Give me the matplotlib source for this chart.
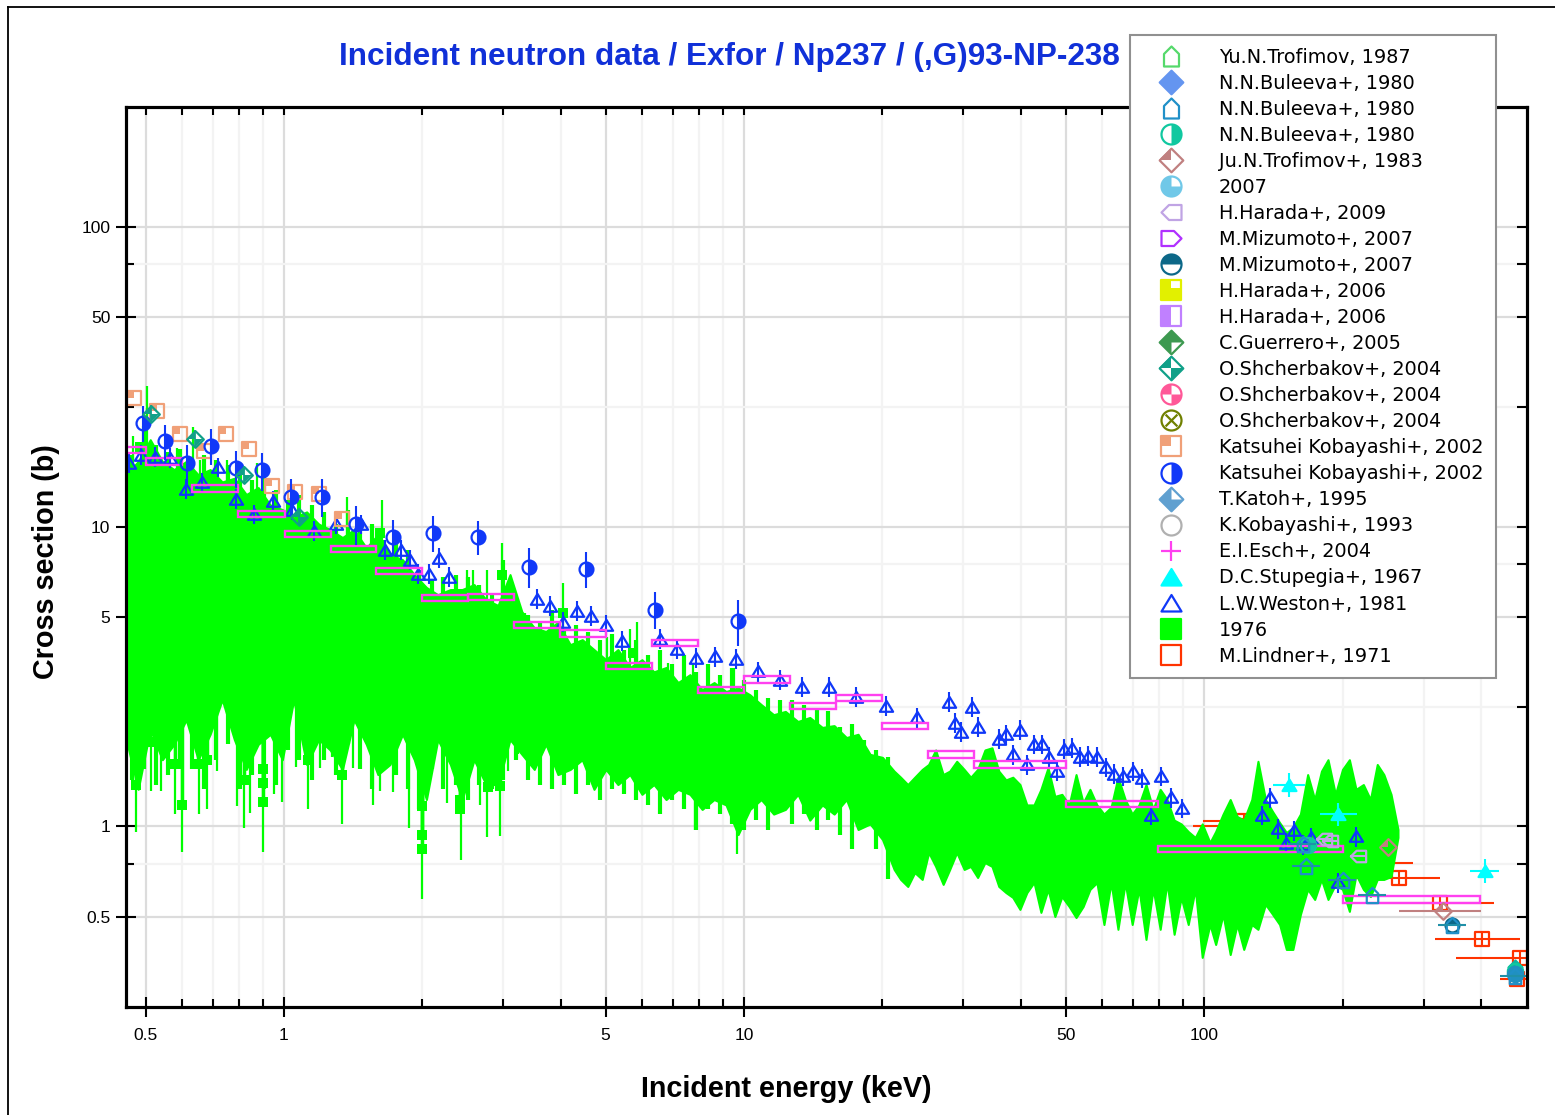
import matplotlib
matplotlib.use('Agg')
import matplotlib.pyplot as plt
import numpy as np
from matplotlib.lines import Line2D
from matplotlib.patches import Rectangle
from matplotlib.path import Path
from matplotlib.legend_handler import HandlerTuple
from matplotlib.ticker import NullFormatter, NullLocator

# 1976 data: band (energy keV, upper and lower edge in barns)
green_e = [0.454, 0.482, 0.512, 0.544, 0.577, 0.613, 0.651, 0.691, 0.734, 0.780, 0.828, 0.879, 0.934, 0.992, 1.05, 1.12,
           1.19, 1.26, 1.34, 1.42, 1.51, 1.60, 1.70, 1.81, 1.92, 2.04, 2.16, 2.30, 2.44, 2.59, 2.75, 2.92,
           3.10, 3.29, 3.50, 3.71, 3.94, 4.19, 4.45, 4.72, 5.01, 5.32, 5.65, 6.00, 6.37, 6.77, 7.19, 7.63,
           8.11, 8.61, 9.14, 9.71, 10.3, 10.9, 11.6, 12.3, 13.1, 13.9, 14.8, 15.7, 16.7, 17.7, 18.8, 20.0, 21.2,
           21.9, 22.7, 23.5, 24.4, 25.2, 26.1, 27.1, 28.0, 29.0, 30.1, 31.1, 32.2, 33.4, 34.6, 35.8, 37.1, 38.4, 39.8, 41.2, 42.7,
           44.2, 45.8, 47.4, 49.1, 50.9, 52.7, 54.6, 56.5, 58.5, 60.6, 62.8, 65.0, 67.4, 69.8, 72.2, 74.8, 77.5, 80.3, 83.1, 86.1,
           89.2, 92.4, 95.7, 99.1, 103, 106, 110, 114, 118, 122, 127, 131, 136, 141, 146, 151, 156, 162, 168, 174,
           180, 186, 193, 200, 207, 214, 222, 230, 238, 246, 255, 264]
green_hi = [14.9, 16.5, 19.5, 16.5, 15.5, 16.5, 14.9, 15.5, 14.1, 14.5, 12.8, 13.5, 11.8, 11.4, 10.7, 11.2,
            10.2, 9.77, 9.2, 9.77, 8.5, 9.4, 8.07, 7.76, 6.92, 6.27, 5.93, 6.17, 6.17, 6.41, 5.71, 5.46,
            6.92, 5.2, 4.6, 4.47, 4.8, 4.04, 4.2, 3.89, 3.6, 3.89, 3.39, 3.6, 3.28, 3.39, 3.02, 3.21,
            2.86, 3.02, 2.82, 2.9, 2.75, 2.55, 2.36, 2.42, 2.24, 2.31, 2.14, 2.17, 1.98, 2.03, 1.74, 1.70, 1.53,
            1.46, 1.38, 1.46, 1.55, 1.61, 1.80, 1.49, 1.53, 1.65, 1.55, 1.46, 1.55, 1.80, 1.83, 1.53, 1.43, 1.46, 1.38, 1.18, 1.18,
            1.33, 1.57, 1.26, 1.28, 1.18, 1.49, 1.20, 1.33, 1.18, 1.10, 1.16, 1.46, 1.23, 1.10, 1.18, 1.38, 1.14, 1.33, 1.23, 1.05,
            1.02, 0.962, 0.919, 1.02, 0.884, 0.962, 1.10, 1.23, 1.08, 1.05, 1.23, 1.65, 1.23, 1.12, 1.03, 0.955, 0.992, 1.10, 1.49, 1.23,
            1.53, 1.67, 1.28, 1.55, 1.67, 1.33, 1.38, 1.23, 1.61, 1.49, 1.28, 0.977]
green_lo = [1.95, 1.33, 2.11, 1.67, 1.88, 2.27, 1.67, 2.03, 2.65, 1.95, 1.55, 1.88, 2.03, 1.67, 2.65, 1.61,
            1.95, 1.80, 1.55, 2.27, 1.88, 1.49, 1.61, 2.03, 1.67, 1.23, 1.95, 1.61, 1.23, 1.67, 1.38, 1.38,
            1.95, 1.74, 1.55, 1.88, 1.49, 1.55, 1.67, 1.33, 1.55, 1.38, 1.49, 1.28, 1.38, 1.23, 1.33, 1.28,
            1.14, 1.23, 1.18, 0.94, 1.14, 1.23, 1.10, 1.14, 1.28, 1.05, 1.18, 1.10, 1.23, 0.977, 1.02, 0.905, 0.719,
            0.666, 0.631, 0.702, 0.666, 0.819, 0.736, 0.641, 0.719, 0.819, 0.719, 0.736, 0.676, 0.758, 0.736, 0.631, 0.602, 0.580, 0.529, 0.602, 0.651,
            0.517, 0.617, 0.501, 0.584, 0.541, 0.497, 0.541, 0.617, 0.65, 0.471, 0.65, 0.454, 0.65, 0.471, 0.62, 0.420, 0.62, 0.454, 0.65, 0.437,
            0.58, 0.471, 0.62, 0.366, 0.471, 0.404, 0.509, 0.374, 0.471, 0.389, 0.471, 0.454, 0.550, 0.509, 0.471, 0.389, 0.389, 0.509, 0.617, 0.571,
            0.666, 0.571, 0.641, 0.617, 0.521, 0.692, 0.617, 0.584, 0.666, 0.666, 0.681, 0.919]

# finer teeth between the band rows, below 21 keV
mid_e = [0.467, 0.496, 0.527, 0.559, 0.594, 0.631, 0.670, 0.711, 0.755, 0.802, 0.852, 0.904, 0.960, 1.02, 1.08, 1.15, 1.22, 1.30, 1.38, 1.46,
         1.55, 1.65, 1.75, 1.86, 1.97, 2.10, 2.22, 2.36, 2.51, 2.66, 2.83, 3.00, 3.19, 3.39, 3.60, 3.82, 4.06, 4.31, 4.58, 4.86,
         5.16, 5.48, 5.82, 6.18, 6.56, 6.97, 7.40, 7.86, 8.35, 8.86, 9.41, 10.0, 10.6, 11.3, 12.0, 12.7, 13.5, 14.4, 15.2, 16.2,
         17.2, 18.2, 19.4, 20.6]
mid_hi = [17.4, 21.7, 18.7, 17.8, 18.1, 16.7, 17.4, 16.7, 16.1, 15.5, 14.3, 14.9, 13.3, 12.3, 12.8, 11.8, 11.2, 10.2, 11.4, 9.77,
          10.2, 9.05, 9.05, 8.38, 7.19, 6.66, 6.8, 6.92, 6.8, 6.41, 5.93, 7.76, 5.71, 5.09, 4.8, 5.29, 4.54, 4.71, 4.47, 4.2,
          4.37, 3.89, 4.2, 3.74, 3.89, 3.47, 3.74, 3.28, 3.47, 3.21, 3.39, 3.09, 2.86, 2.69, 2.65, 2.65, 2.55, 2.49, 2.42, 2.14,
          2.19, 1.95, 1.80, 1.70]
mid_lo = [1.43, 1.55, 1.38, 1.49, 1.55, 1.55, 1.33, 1.67, 1.88, 1.33, 1.49, 1.33, 1.38, 1.80, 1.67, 1.43, 1.67, 1.49, 1.88, 1.55,
          1.33, 1.55, 1.49, 1.33, 1.14, 1.55, 1.33, 1.38, 1.23, 1.38, 1.33, 1.43, 1.67, 1.43, 1.38, 1.33, 1.38, 1.28, 1.38, 1.23,
          1.33, 1.28, 1.23, 1.18, 1.10, 1.23, 1.14, 0.977, 1.14, 1.10, 1.02, 0.977, 1.05, 0.977, 1.14, 1.02, 1.10, 0.977, 1.05, 0.94,
          0.838, 1.02, 0.838, 0.666]

# narrow peaks and dips that stick out of the band
spike_e = [0.470, 0.504, 0.585, 0.634, 0.656, 0.752, 0.874, 1.37, 1.63, 2.50, 2.58, 2.76, 2.98, 3.13, 3.34, 4.04, 5.04, 5.65, 5.85, 6.83, 7.75, 8.35, 9.51]
spike_v = [20.0, 29.5, 18.3, 21.5, 16.7, 16.7, 16.3, 12.6, 12.3, 7.19, 7.19, 7.19, 8.84, 6.17, 5.17, 6.5, 4.30, 4.54, 4.8, 3.52, 3.52, 3.34, 3.39]
dip_e = [0.477, 0.514, 0.540, 0.580, 0.600, 0.653, 0.680, 0.715, 0.791, 0.819, 0.843, 0.900, 0.951, 0.991, 1.06, 1.13, 1.20, 1.27, 1.34, 1.41,
         1.56, 1.62, 1.73, 1.87, 2.0, 2.26, 2.43, 2.67, 2.76, 2.95, 3.07, 3.23, 4.87, 6.57, 7.82, 9.66]
dip_v = [0.955, 1.31, 1.31, 1.10, 0.819, 1.10, 1.14, 1.53, 1.17, 0.99, 1.11, 0.819, 1.28, 1.21, 1.58, 1.14, 1.57, 1.70, 1.02, 1.57,
         1.18, 1.31, 1.30, 0.99, 0.571, 1.20, 0.776, 1.18, 0.919, 0.926, 1.53, 1.74, 1.23, 1.10, 0.977, 0.807]
pt_low_e = [0.477, 0.511, 0.540, 0.511, 0.580, 0.600, 0.650, 0.680, 0.819, 0.900, 0.900, 0.900, 1.13, 1.34, 2.0, 2.0, 2.0, 2.0, 2.41, 2.41, 2.77, 2.95]
pt_low_v = [1.38, 1.92, 1.92, 2.22, 1.61, 1.18, 1.61, 1.67, 1.43, 1.21, 1.40, 1.55, 1.67, 1.49, 1.17, 1.36, 0.940, 0.838, 1.14, 1.23, 1.35, 1.36]
pt_top_e = [0.486, 0.874, 1.62, 2.98, 4.04, 5.74]
pt_top_v = [18.5, 12.6, 9.5, 6.92, 5.17, 3.80]

# other data sets
lindner_e = [118, 122, 203, 265, 326, 402, 486, 479]
lindner_v = [1.0, 1.04, 0.753, 0.671, 0.554, 0.423, 0.363, 0.309]
lindner_lo = [94.7, 99.5, 186, 205, 226, 318, 353, 440]
lindner_hi = [148.5, 145, 285, 326, 427, 486, 620, 560]

weston_e = [0.460, 0.489, 0.525, 0.565, 0.612, 0.663, 0.719, 0.787, 0.861, 0.947, 1.04, 1.16, 1.30, 1.47, 1.66, 1.80, 1.88, 1.96, 2.07, 2.17, 2.28,
            3.55, 3.79, 4.04, 4.33, 4.65, 5.01, 5.43, 6.57, 7.15, 7.87, 8.65, 9.61, 10.7, 12.0, 13.4, 15.3, 17.5, 20.4, 23.8, 27.9, 28.8, 29.6, 31.3, 32.3,
            35.8, 37.1, 38.5, 39.8, 41.2, 42.7, 44.4, 46.0, 47.9, 49.6, 51.6, 53.7, 56.0, 58.5, 61.2, 63.7, 66.6, 70.1, 73.3, 76.7, 80.7, 84.8, 89.6,
            134, 139, 145, 151, 157, 164, 171, 196, 214]
weston_v = [16.3, 17.4, 17.1, 17.0, 13.4, 14.1, 15.8, 12.4, 11.0, 12.2, 11.4, 9.70, 10.2, 10.2, 8.39, 8.39, 7.76, 6.97, 6.97, 7.88, 6.81,
            5.75, 5.45, 4.82, 5.25, 5.05, 4.71, 4.17, 4.23, 3.92, 3.66, 3.69, 3.63, 3.29, 3.09, 2.93, 2.93, 2.71, 2.53, 2.31, 2.61, 2.22, 2.07, 2.51, 2.15,
            1.96, 2.03, 1.74, 2.10, 1.61, 1.88, 1.88, 1.71, 1.53, 1.82, 1.83, 1.71, 1.72, 1.71, 1.58, 1.50, 1.47, 1.53, 1.45, 1.09, 1.47, 1.25, 1.15,
            1.09, 1.25, 0.985, 0.884, 0.970, 0.871, 0.919, 0.651, 0.927]
weston_rel_err = 0.075

stupegia_e = [153, 196, 408]
stupegia_v = [1.38, 1.10, 0.713]
stupegia_lo = [141, 179, 379]
stupegia_hi = [166, 215, 438]

esch_lo = [0.40, 0.501, 0.631, 0.794, 1.005, 1.265, 1.585, 2.0, 2.51, 3.16, 3.98, 5.01, 6.31, 7.94, 10.0, 12.6, 15.85, 20.0, 25.1, 31.6, 50.1, 79.4, 200]
esch_hi = [0.501, 0.60, 0.794, 1.005, 1.265, 1.585, 2.0, 2.51, 3.16, 3.98, 5.01, 6.31, 7.94, 10.0, 12.6, 15.85, 20.0, 25.1, 31.6, 50.1, 79.4, 200, 398]
esch_v = [18.0, 16.5, 13.4, 11.0, 9.48, 8.45, 7.13, 5.80, 5.84, 4.70, 4.40, 3.43, 4.09, 2.86, 3.09, 2.53, 2.68, 2.17, 1.74, 1.61, 1.19, 0.841, 0.571]
esch_rel_err = 0.024

kob02_sq_e = [0.472, 0.530, 0.594, 0.670, 0.748, 0.839, 0.942, 1.057, 1.19, 1.337]
kob02_sq_v = [26.9, 24.4, 20.4, 17.9, 20.3, 18.1, 13.7, 13.0, 12.9, 10.6]
kob02_c_e = [0.494, 0.551, 0.615, 0.694, 0.787, 0.896, 1.036, 1.21, 1.434, 1.725, 2.11, 2.64, 3.41, 4.54, 6.41, 9.70]
kob02_c_v = [22.2, 19.3, 16.3, 18.6, 15.7, 15.4, 12.6, 12.6, 10.2, 9.26, 9.55, 9.26, 7.36, 7.24, 5.29, 4.86]
kob02_c_err = [3.0, 2.6, 2.4, 2.6, 2.2, 2.2, 1.8, 1.8, 1.5, 1.3, 1.3, 1.2, 1.1, 1.0, 0.75, 0.85]

shch_e = [0.514, 0.641, 0.819, 1.08]
shch_v = [23.8, 19.6, 14.9, 10.8]

harada09_e = [182, 188, 216]
harada09_v = [0.905, 0.897, 0.80]

trof83_e = [251, 331]
trof83_v = [0.851, 0.521]
trof83_lo = [251, 265]
trof83_hi = [251, 400]

bul_house_e = [164, 167, 200, 232, 346, 474]
bul_house_v = [0.871, 0.736, 0.661, 0.593, 0.471, 0.316]
bul_half_e = [168, 474]
bul_half_v = [0.865, 0.329]
bul_dia_e = [474]
bul_dia_v = [0.339]
miz_half_e = [346, 474]
miz_half_v = [0.471, 0.329]
y2007_e = [474]
y2007_v = [0.322]

legend_labels = ['Yu.N.Trofimov, 1987', 'N.N.Buleeva+, 1980', 'N.N.Buleeva+, 1980', 'N.N.Buleeva+, 1980', 'Ju.N.Trofimov+, 1983',
                 '2007', 'H.Harada+, 2009', 'M.Mizumoto+, 2007', 'M.Mizumoto+, 2007', 'H.Harada+, 2006', 'H.Harada+, 2006',
                 'C.Guerrero+, 2005', 'O.Shcherbakov+, 2004', 'O.Shcherbakov+, 2004', 'O.Shcherbakov+, 2004',
                 'Katsuhei Kobayashi+, 2002', 'Katsuhei Kobayashi+, 2002', 'T.Katoh+, 1995', 'K.Kobayashi+, 1993',
                 'E.I.Esch+, 2004', 'D.C.Stupegia+, 1967', 'L.W.Weston+, 1981', '1976', 'M.Lindner+, 1971']

x_major = [0.5, 1, 5, 10, 50, 100]
x_minor = [0.6, 0.7, 0.8, 0.9, 2, 3, 4, 6, 7, 8, 9, 20, 30, 40, 60, 70, 80, 90, 200, 300, 400]
y_major = [0.5, 1, 5, 10, 50, 100]
y_minor = [0.75, 2.5, 7.5, 25, 75]


def poly(pts):
    return Path(pts + [pts[0]], closed=True)


CIRCLE = Path.unit_circle()
DIAMOND = poly([(0, 1), (1, 0), (0, -1), (-1, 0)])
SQUARE = poly([(-1, -1), (1, -1), (1, 1), (-1, 1)])
HOUSE = poly([(-0.75, -1), (0.75, -1), (0.75, 0.25), (0, 1), (-0.75, 0.25)])
HOUSE_L = poly([(1, -0.75), (1, 0.75), (-0.25, 0.75), (-1, 0), (-0.25, -0.75)])
HOUSE_R = poly([(-1, -0.75), (-1, 0.75), (0.25, 0.75), (1, 0), (0.25, -0.75)])
TRI = poly([(0, 0.85), (1, -0.8), (-1, -0.8)])
PLUS = Path([(-1, 0), (1, 0), (0, -1), (0, 1)], [Path.MOVETO, Path.LINETO, Path.MOVETO, Path.LINETO])
CROSS = Path([(-1, -1), (1, 1), (-1, 1), (1, -1)], [Path.MOVETO, Path.LINETO, Path.MOVETO, Path.LINETO])

s_trof87 = ('#55d96b', HOUSE, None)
s_bul_dia = ('#6495f0', DIAMOND, DIAMOND)
s_bul_house = ('#2090c8', HOUSE, None)
s_bul_half = ('#10c8a0', CIRCLE, Path.wedge(-90, 90))
s_trof83 = ('#c08080', DIAMOND, poly([(-1, 0), (0, 0), (0, 1)]))
s_2007 = ('#70c8e8', CIRCLE, Path.wedge(90, 360))
s_har09 = ('#c0a4e4', HOUSE_L, None)
s_miz_r = ('#b030ff', HOUSE_R, None)
s_miz_half = ('#0c6888', CIRCLE, Path.wedge(0, 180))
s_har_y = ('#e2f000', SQUARE, poly([(-1, -1), (1, -1), (1, 0.2), (0, 0.2), (0, 1), (-1, 1)]))
s_har_p = ('#c080ff', SQUARE, poly([(-1, -1), (0, -1), (0, 1), (-1, 1)]))
s_guer = ('#3d9950', DIAMOND, poly([(0, 1), (1, 0), (0, 0), (0, -1), (-1, 0)]))
s_shch = ('#10a088', DIAMOND, Path.make_compound_path(poly([(-1, 0), (0, 0), (0, 1)]), poly([(1, 0), (0, 0), (0, -1)])))
s_pink = ('#ff5898', CIRCLE, Path.make_compound_path(Path.wedge(90, 180), Path.wedge(270, 360)))
s_olive = ('#708000', CIRCLE, CROSS)
s_kob_sq = ('#f0a078', SQUARE, poly([(-1, 0), (0, 0), (0, 1), (-1, 1)]))
s_kob_c = ('#1038f8', CIRCLE, Path.wedge(-90, 90))
s_katoh = ('#60a0d0', DIAMOND, poly([(-1, 0), (0, -1), (1, 0), (0, 0), (0, 1)]))
s_kob93 = ('#b0b0b0', CIRCLE, None)
s_esch = ('#ff40f0', PLUS, None)
s_stup = ('#00ffff', TRI, TRI)
s_west = ('#1038f8', TRI, None)
s_1976 = ('#00ff00', SQUARE, SQUARE)
s_lind = ('#ff3300', SQUARE, None)

legend_styles = [s_trof87, s_bul_dia, s_bul_house, s_bul_half, s_trof83, s_2007, s_har09, s_miz_r, s_miz_half, s_har_y, s_har_p,
                 s_guer, s_shch, s_pink, s_olive, s_kob_sq, s_kob_c, s_katoh, s_kob93, s_esch, s_stup, s_west, s_1976, s_lind]

plt.rcParams['font.family'] = ['Liberation Sans', 'DejaVu Sans']

fig = plt.figure(figsize=(15.55, 11.15), dpi=100)
ax = fig.add_axes([126 / 1555, 1 - 1007 / 1115, (1527 - 126) / 1555, 900 / 1115])
ax.set_xscale('log')
ax.set_yscale('log')
ax.set_xlim(0.4535, 503.6)
ax.set_ylim(0.25, 251)


def draw(e, v, style, ms=9.5, z=5.0):
    color, outline, fill = style
    ax.plot(e, v, ls='none', marker=outline, ms=ms, mfc='none', mec=color, mew=1.6, zorder=z)
    if fill is not None:
        ax.plot(e, v, ls='none', marker=fill, ms=ms, mfc=color, mec=color, mew=0, zorder=z)


def bars_x(e_lo, e_hi, v, color, z):
    ax.hlines(v, e_lo, e_hi, color=color, lw=1.5, zorder=z)


# drawn from the last legend row upwards
bars_x(lindner_lo, lindner_hi, lindner_v, '#ff3300', 2.5)
ax.vlines(lindner_e, np.array(lindner_v) * 0.95, np.array(lindner_v) * 1.05, color='#ff3300', lw=1.5, zorder=2.5)
draw(lindner_e, lindner_v, s_lind, ms=10, z=2.6)

ax.fill_between(green_e, green_lo, green_hi, color='#00ff00', lw=1.5, zorder=3)
ax.vlines(mid_e, mid_lo, mid_hi, color='#00ff00', lw=3, zorder=3)
ax.vlines(spike_e, np.array(spike_v) * 0.5, spike_v, color='#00ff00', lw=1.6, zorder=3)
ax.vlines(dip_e, dip_v, np.array(dip_v) * 3, color='#00ff00', lw=1.6, zorder=3)
ax.vlines(pt_low_e, pt_low_v, np.array(pt_low_v) * 3, color='#00ff00', lw=2.5, zorder=3)
ax.plot(pt_low_e, pt_low_v, ls='none', marker='s', ms=7.5, color='#00ff00', mew=0, zorder=3)
ax.plot(pt_top_e, pt_top_v, ls='none', marker='s', ms=7.5, color='#00ff00', mew=0, zorder=3)

w_e = np.array(weston_e)
w_v = np.array(weston_v)
ax.vlines(w_e, w_v * (1 - weston_rel_err), w_v * (1 + weston_rel_err), color='#1038f8', lw=1.5, zorder=4)
draw(weston_e, weston_v, s_west, ms=9.5, z=4)

bars_x(stupegia_lo, stupegia_hi, stupegia_v, '#00ffff', 4.2)
ax.vlines(stupegia_e, np.array(stupegia_v) * 0.91, np.array(stupegia_v) * 1.09, color='#00ffff', lw=1.5, zorder=4.2)
draw(stupegia_e, stupegia_v, s_stup, ms=10, z=4.2)

for lo, hi, v in zip(esch_lo, esch_hi, esch_v):
    ax.add_patch(Rectangle((lo, v * (1 - esch_rel_err)), hi - lo, 2 * v * esch_rel_err, fill=False,
                           ec='#ff40f0', lw=1.7, zorder=4.4))

draw(kob02_sq_e, kob02_sq_v, s_kob_sq, ms=10, z=4.5)
ax.errorbar(kob02_c_e, kob02_c_v, yerr=kob02_c_err, ls='none', color='#1038f8', lw=1.5, zorder=4.6)
draw(kob02_c_e, kob02_c_v, s_kob_c, ms=10, z=4.6)
draw(shch_e, shch_v, s_shch, ms=12, z=4.7)
ax.vlines(shch_e, np.array(shch_v) * 0.93, np.array(shch_v) * 1.07, color='#10a088', lw=1.3, zorder=4.7)

draw(miz_half_e, miz_half_v, s_miz_half, ms=10, z=4.8)
draw(harada09_e, harada09_v, s_har09, ms=11, z=4.9)
ax.hlines(harada09_v, np.array(harada09_e) * 0.96, np.array(harada09_e) * 1.04, color='#c0a4e4', lw=1.5, zorder=4.9)
draw(y2007_e, y2007_v, ('#2090c0', CIRCLE, CIRCLE), ms=11, z=5.25)
bars_x(trof83_lo, trof83_hi, trof83_v, '#c08080', 5.1)
draw(trof83_e, trof83_v, s_trof83, ms=12, z=5.1)
draw(bul_half_e, bul_half_v, s_bul_half, ms=11, z=5.2)
draw(bul_house_e, bul_house_v, s_bul_house, ms=11, z=5.3)
be = np.array(bul_house_e, dtype=float)
ax.hlines(bul_house_v, be * 0.93, be * 1.07, color='#2090a8', lw=1.5, zorder=5.3)
draw(bul_dia_e, bul_dia_v, ('#10b0a0', DIAMOND, DIAMOND), ms=10, z=5.1)

# axes look: major grid on 0.5/1/5/10..., faint grid on the rest
ax.set_xticks(x_major)
ax.set_xticklabels(['0.5', '1', '5', '10', '50', '100'])
ax.set_xticks(x_minor, minor=True)
ax.set_yticks(y_major)
ax.set_yticklabels(['0.5', '1', '5', '10', '50', '100'])
ax.set_yticks(y_minor, minor=True)
ax.xaxis.set_minor_formatter(NullFormatter())
ax.yaxis.set_minor_formatter(NullFormatter())
ax.set_axisbelow(True)
ax.grid(which='major', color='#dcdcdc', lw=1.6)
ax.grid(which='minor', color='#f3f3f3', lw=1.6)
ax.tick_params(which='major', direction='inout', length=14.4, width=1.5, labelsize=12.5)
ax.tick_params(axis='x', which='major', pad=8)
ax.tick_params(axis='y', which='major', pad=4)
ax.tick_params(which='minor', direction='in', length=5.8, width=1.5)
for s in ax.spines.values():
    s.set_linewidth(2.2)

# top and right ticks point inward only, so they get their own axes
top = ax.twiny()
top.set_xscale('log')
top.set_xlim(ax.get_xlim())
top.set_xticks(x_major + x_minor)
top.set_xticklabels([])
top.xaxis.set_minor_locator(NullLocator())
top.tick_params(axis='x', direction='in', length=5.8, width=1.5)
right = ax.twinx()
right.set_yscale('log')
right.set_ylim(ax.get_ylim())
right.set_yticks(y_major + y_minor)
right.set_yticklabels([])
right.yaxis.set_minor_locator(NullLocator())
right.tick_params(axis='y', direction='in', length=7, width=1.5)
for a in (top, right):
    for s in a.spines.values():
        s.set_linewidth(2.2)

fig.text(729 / 1555, 1 - 57 / 1115, 'Incident neutron data / Exfor / Np237 / (,G)93-NP-238', color='#1030d8',
         fontsize=22.7, fontweight='bold', ha='center', va='center')
fig.text(786 / 1555, 1 - 1089 / 1115, 'Incident energy (keV)', fontsize=20.7, fontweight='bold', ha='center', va='center')
fig.text(46 / 1555, 1 - 562 / 1115, 'Cross section (b)', fontsize=20.7, fontweight='bold', rotation=90, ha='center', va='center')

# page frame, left and top only
fig.add_artist(Line2D([8 / 1555, 8 / 1555], [0, 1 - 7 / 1115], color='black', lw=1.3))
fig.add_artist(Line2D([8 / 1555, 1], [1 - 7 / 1115, 1 - 7 / 1115], color='black', lw=1.3))

handles = []
for color, outline, fill in legend_styles:
    ms = 17 if outline is DIAMOND else 14.4
    parts = [Line2D([], [], ls='none', marker=outline, ms=ms, mfc='none', mec=color, mew=1.6)]
    if fill is CROSS:
        parts.append(Line2D([], [], ls='none', marker=fill, ms=8.5, mec=color, mew=1.6))
    elif fill is not None:
        parts.append(Line2D([], [], ls='none', marker=fill, ms=ms, mfc=color, mec=color, mew=0))
    handles.append(tuple(parts))

leg = fig.legend(handles, legend_labels, loc='upper left', bbox_to_anchor=(1130 / 1555, 1 - 35 / 1115), borderaxespad=0,
                 handler_map={tuple: HandlerTuple(ndivide=1, pad=0)}, numpoints=1, prop={'family': 'DejaVu Sans', 'size': 13.9},
                 borderpad=0.65, labelspacing=0.365, handlelength=2.93, handletextpad=1.01, fancybox=False, framealpha=1,
                 facecolor='white', edgecolor='#909090')
leg.get_frame().set_linewidth(1.5)

fig.savefig('out.png', dpi=100)
